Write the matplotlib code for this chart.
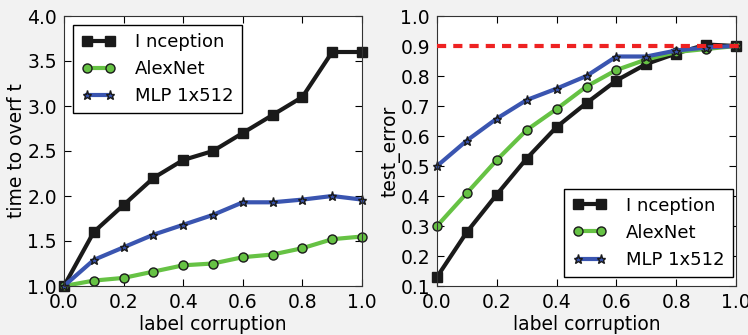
import matplotlib
matplotlib.use("Agg")
import matplotlib.pyplot as plt

# label corruption levels
corruption = [0.0, 0.1, 0.2, 0.3, 0.4, 0.5, 0.6, 0.7, 0.8, 0.9, 1.0]

# time to overfit (left panel)
overfit_inception = [1.0, 1.6, 1.9, 2.2, 2.4, 2.5, 2.7, 2.9, 3.1, 3.6, 3.6]
overfit_alexnet = [1.0, 1.06, 1.09, 1.16, 1.23, 1.25, 1.32, 1.35, 1.42, 1.52, 1.55]
overfit_mlp = [1.0, 1.29, 1.43, 1.57, 1.68, 1.79, 1.93, 1.93, 1.96, 2.0, 1.96]

# test error (right panel)
err_inception = [0.13, 0.28, 0.405, 0.525, 0.63, 0.71, 0.785, 0.84, 0.875, 0.905, 0.9]
err_alexnet = [0.30, 0.41, 0.52, 0.62, 0.69, 0.765, 0.82, 0.855, 0.88, 0.89, 0.9]
err_mlp = [0.50, 0.585, 0.658, 0.72, 0.758, 0.80, 0.865, 0.865, 0.885, 0.895, 0.90]
chance_level = 0.9

names = ["I nception", "AlexNet", "MLP 1x512"]

plt.rcParams['font.family'] = ['DejaVu Sans']
plt.rcParams['font.size'] = 13
plt.rcParams['legend.numpoints'] = 2

fig = plt.figure(figsize=(7.48, 3.35), dpi=100, facecolor='#f2f2f2')
ax1 = fig.add_axes([64 / 748, 1 - 286 / 335, 298 / 748, 270 / 335])
ax2 = fig.add_axes([437 / 748, 1 - 286 / 335, 299 / 748, 270 / 335])

styles = [
    dict(color='#1a1a1a', marker='s', markersize=6.5, markerfacecolor='#1a1a1a', markeredgecolor='#1a1a1a'),
    dict(color='#66c244', marker='o', markersize=6.5, markerfacecolor='#66c244', markeredgecolor='#1a1a1a'),
    dict(color='#3a55b0', marker='*', markersize=6.5, markerfacecolor='#3a55b0', markeredgecolor='#1a1a1a'),
]
leg_kw = dict(fancybox=False, edgecolor='black', framealpha=1, fontsize=13,
              handlelength=1.9, handletextpad=1.1, borderpad=0.45, labelspacing=0.5)

# 左图
for y, nm, st in zip([overfit_inception, overfit_alexnet, overfit_mlp], names, styles):
    ax1.plot(corruption, y, linewidth=3, label=nm, clip_on=False, **st)
ax1.set_xlim(0, 1.0)
ax1.set_ylim(1.0, 4.0)
ax1.set_xticks([0.0, 0.2, 0.4, 0.6, 0.8, 1.0])
ax1.set_yticks([1.0, 1.5, 2.0, 2.5, 3.0, 3.5, 4.0])
ax1.set_xlabel("label corruption", fontsize=13.5, labelpad=2)
ax1.set_ylabel("time to overf t", fontsize=13.5, labelpad=1)
ax1.legend(loc='upper left', **leg_kw)

# 右图
for y, nm, st in zip([err_inception, err_alexnet, err_mlp], names, styles):
    ax2.plot(corruption, y, linewidth=3, label=nm, clip_on=False, **st)
ax2.plot([0, 1.02], [chance_level, chance_level], color='#ee2222', linewidth=3,
         linestyle=(0, (2.2, 1.7)), clip_on=False, zorder=3)
ax2.set_xlim(0, 1.0)
ax2.set_ylim(0.1, 1.0)
ax2.set_xticks([0.0, 0.2, 0.4, 0.6, 0.8, 1.0])
ax2.set_yticks([0.1, 0.2, 0.3, 0.4, 0.5, 0.6, 0.7, 0.8, 0.9, 1.0])
ax2.set_xlabel("label corruption", fontsize=13.5, labelpad=2)
ax2.set_ylabel("test_error", fontsize=13.5, labelpad=0)
ax2.legend(loc='lower right', bbox_to_anchor=(1.0 + 6 / 299, 0.0), **leg_kw)

for ax in (ax1, ax2):
    ax.set_facecolor('white')
    ax.tick_params(direction='in', top=True, right=True, length=5, labelsize=13.5, pad=5)
    for s in ax.spines.values():
        s.set_color('#333333')

fig.savefig("out.png", dpi=100, facecolor=fig.get_facecolor())
